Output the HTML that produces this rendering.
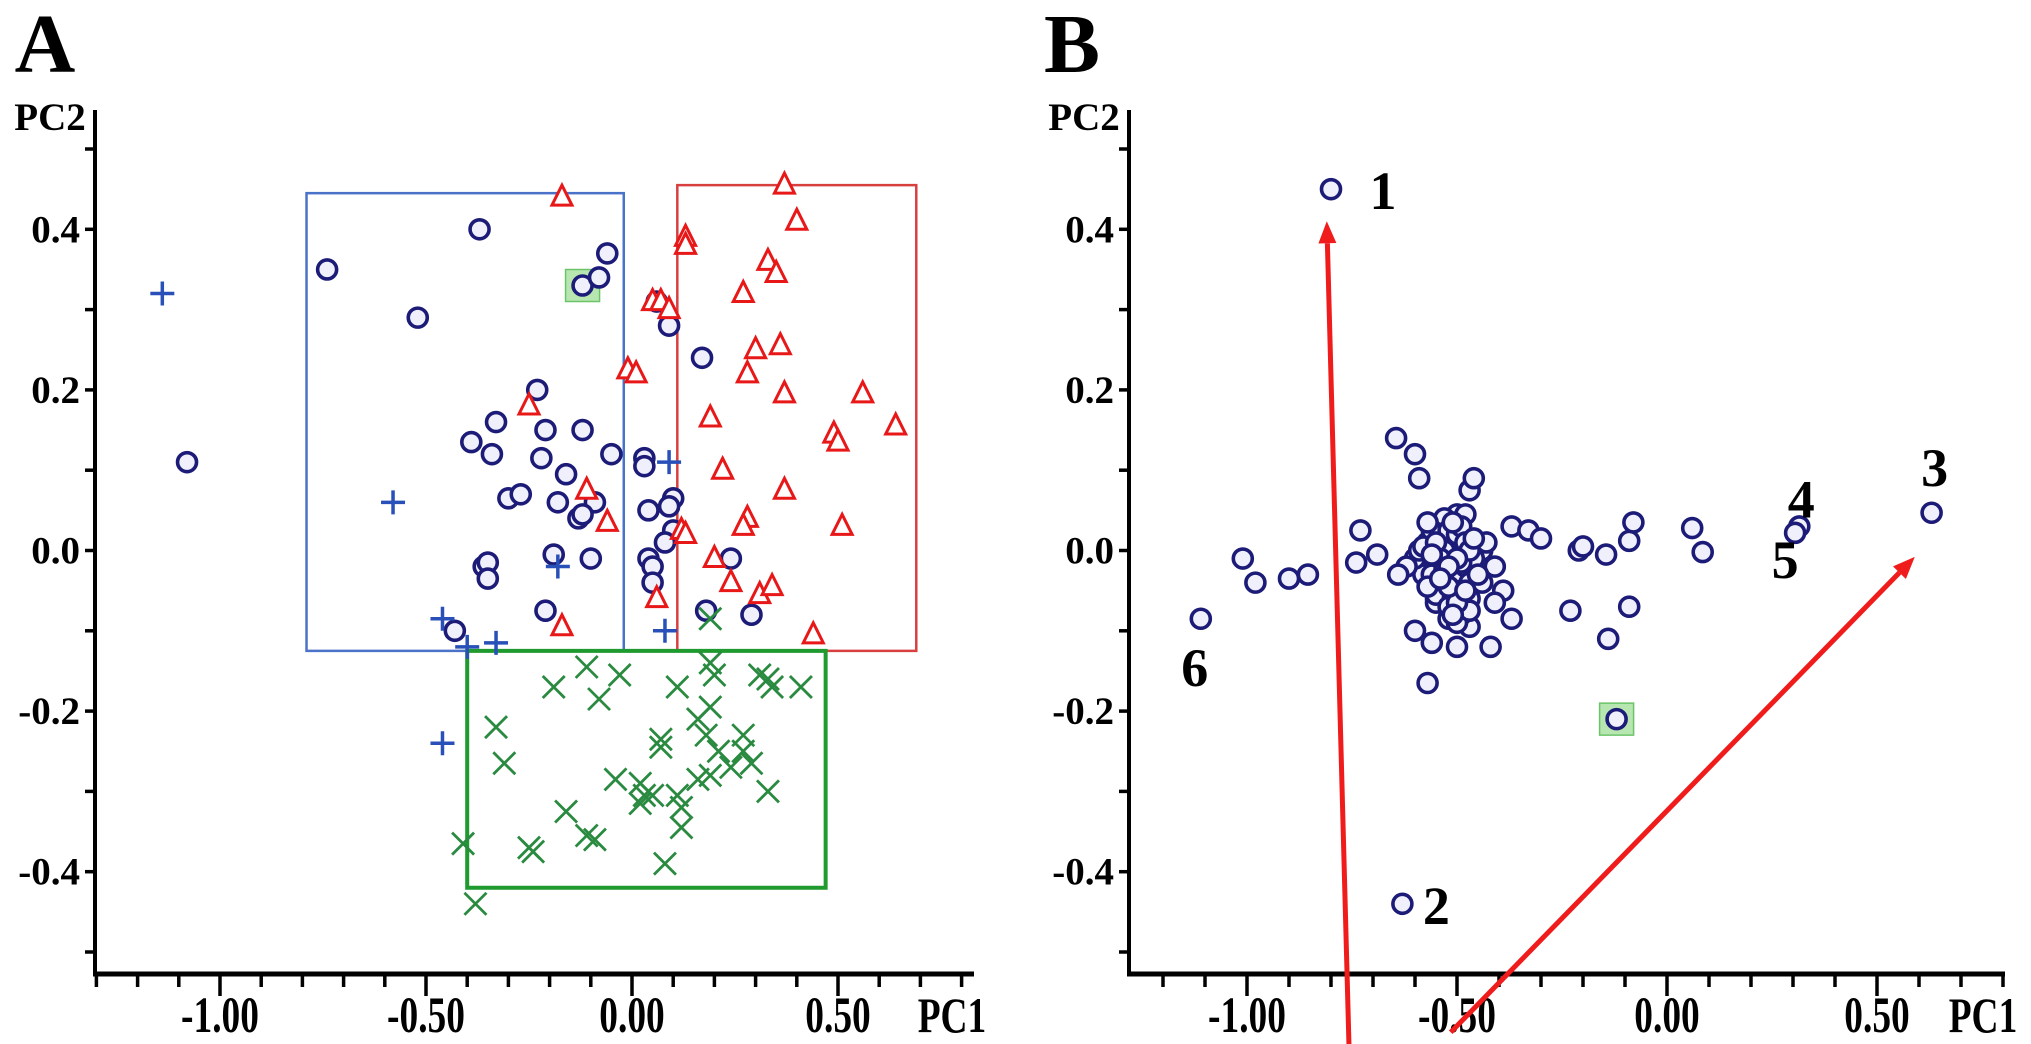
<!DOCTYPE html>
<html><head><meta charset="utf-8"><style>
html,body{margin:0;padding:0;background:#fff;}
svg{display:block;font-family:"Liberation Serif",serif;font-weight:bold;}
</style></head><body>
<svg id="fig" width="2031" height="1044" viewBox="0 0 2031 1044" xmlns="http://www.w3.org/2000/svg">
<text x="45" y="72" font-size="84" text-anchor="middle">A</text>
<text x="1072" y="72" font-size="84" text-anchor="middle">B</text>
</svg>
<script>
// ---- Panel A data ----
const aCircX=[-0.74,-0.37,-0.52,-1.08,-0.12,-0.06,-0.08,0.06,0.09,0.17,-0.23,-0.33,-0.39,-0.34,-0.21,-0.12,-0.22,-0.16,-0.05,0.03,0.03,-0.30,-0.27,-0.18,-0.09,-0.13,-0.12,0.04,0.10,0.09,0.10,0.08,0.04,0.05,0.05,-0.10,-0.19,-0.36,-0.35,-0.35,-0.21,-0.43,0.18,0.24,0.29];
const aCircY=[0.35,0.40,0.29,0.11,0.33,0.37,0.34,0.31,0.28,0.24,0.20,0.16,0.135,0.12,0.15,0.15,0.115,0.095,0.12,0.115,0.105,0.065,0.07,0.06,0.06,0.04,0.045,0.05,0.065,0.055,0.025,0.01,-0.01,-0.02,-0.04,-0.01,-0.005,-0.02,-0.015,-0.035,-0.075,-0.10,-0.075,-0.01,-0.08];
const aTriX=[-0.17,0.37,0.40,0.13,0.13,0.05,0.07,0.09,0.33,0.35,0.27,-0.01,0.01,0.30,0.36,0.28,0.37,0.19,0.56,0.64,0.49,0.50,0.22,-0.25,-0.11,0.37,-0.06,0.12,0.13,0.28,0.27,0.51,0.20,0.24,0.31,0.34,0.06,-0.17,0.44];
const aTriY=[0.44,0.455,0.41,0.39,0.38,0.31,0.31,0.30,0.36,0.345,0.32,0.225,0.22,0.25,0.255,0.22,0.195,0.165,0.195,0.155,0.145,0.135,0.10,0.18,0.075,0.075,0.035,0.025,0.02,0.04,0.03,0.03,-0.01,-0.04,-0.055,-0.045,-0.06,-0.095,-0.105];
const aPlusX=[-1.14,-0.58,-0.46,-0.40,-0.33,-0.18,0.09,0.08,-0.46];
const aPlusY=[0.32,0.06,-0.085,-0.12,-0.115,-0.02,0.11,-0.10,-0.24];
const aCrossX=[0.19,-0.41,-0.38,-0.33,-0.31,-0.19,-0.11,-0.08,-0.03,0.11,0.19,0.20,0.31,0.33,0.34,0.41,0.19,0.16,0.18,0.07,0.07,0.21,0.27,0.27,0.24,0.29,0.33,0.19,0.16,-0.04,0.02,0.03,0.02,0.05,0.11,0.12,0.12,-0.16,-0.11,-0.09,-0.25,-0.24,0.08];
const aCrossY=[-0.085,-0.365,-0.44,-0.22,-0.265,-0.17,-0.145,-0.185,-0.155,-0.17,-0.14,-0.155,-0.155,-0.16,-0.17,-0.17,-0.195,-0.21,-0.23,-0.245,-0.235,-0.25,-0.23,-0.25,-0.27,-0.265,-0.30,-0.28,-0.285,-0.285,-0.29,-0.305,-0.315,-0.305,-0.305,-0.32,-0.345,-0.325,-0.355,-0.36,-0.37,-0.375,-0.39];
const aBlueBox=[-0.79,-0.02,-0.125,0.445];
const aRedBox=[0.11,0.69,-0.125,0.455];
const aGreenBox=[-0.40,0.47,-0.42,-0.125];
const aHighlight=[-0.12,0.33];
// ---- Panel B data ----
const bLabeledX=[-0.80,-0.63,0.63,0.315,0.305,-1.11];
const bLabeledY=[0.45,-0.44,0.047,0.03,0.022,-0.085];
const bLabels=["1","2","3","4","5","6"];
const bCircX=[-1.01,-0.98,-0.90,-0.855,-0.73,-0.74,-0.69,-0.645,-0.60,-0.59,-0.57,-0.60,-0.56,-0.50,-0.47,-0.42,-0.37,-0.39,-0.41,-0.47,-0.46,-0.37,-0.33,-0.30,-0.21,-0.20,-0.145,-0.09,-0.08,0.06,0.085,-0.23,-0.09,-0.14,-0.12,
 -0.52,-0.50,-0.54,-0.48,-0.53,-0.51,-0.55,-0.49,-0.57,-0.46,-0.52,-0.50,-0.58,-0.44,-0.53,-0.48,-0.56,-0.47,-0.51,-0.54,-0.49,-0.60,-0.43,-0.52,-0.50,-0.55,-0.47,-0.62,-0.45,-0.53,-0.49,-0.57,-0.51,-0.64,-0.41,-0.55,-0.48,-0.52,-0.46,-0.59,-0.50,
 -0.51,-0.53,-0.49,-0.52,-0.50,-0.54,-0.48,-0.51,-0.53,-0.49,-0.56,-0.46,-0.52,-0.50,-0.55,-0.47,-0.51,-0.53,-0.49,-0.52,-0.58,-0.44,-0.54,-0.48,-0.50,-0.52,-0.57,-0.45,-0.51,-0.53,-0.49,-0.55,-0.47,-0.50,-0.52,-0.54,-0.48,-0.56,-0.46,-0.51];
const bCircY=[-0.01,-0.04,-0.035,-0.03,0.025,-0.015,-0.005,0.14,0.12,0.09,-0.165,-0.10,-0.115,-0.12,-0.095,-0.12,-0.085,-0.05,-0.065,0.075,0.09,0.03,0.025,0.015,0.0,0.005,-0.005,0.012,0.035,0.028,-0.002,-0.075,-0.07,-0.11,-0.21,
 0.0,-0.02,0.02,0.01,-0.03,0.03,-0.01,-0.04,0.01,-0.02,-0.05,0.045,-0.03,0.0,0.04,0.045,0.025,-0.06,-0.07,-0.05,-0.08,-0.01,0.01,-0.085,-0.09,-0.06,-0.075,-0.02,-0.04,-0.045,0.02,0.035,0.015,-0.03,-0.02,-0.065,-0.03,-0.015,-0.035,0.0,0.005,
 -0.01,-0.015,-0.005,-0.025,-0.035,0.005,-0.02,0.015,-0.045,-0.05,-0.03,-0.01,0.025,0.02,-0.055,-0.04,-0.06,0.0,0.03,-0.07,0.005,-0.04,-0.01,0.01,-0.065,-0.045,-0.045,-0.03,0.035,-0.025,-0.015,0.01,0.0,-0.01,-0.02,-0.035,-0.05,-0.005,0.015,-0.08];
const bArrowStartX=[-0.757,-0.515];
const bArrowStartY=[-0.62,-0.60];
const bArrowEndX=[-0.81,0.59];
const bArrowEndY=[0.41,-0.008];
const bHighlight=[-0.12,-0.21];
const yTickLabels=["0.4","0.2","0.0","-0.2","-0.4"];
const yTickVals=[0.4,0.2,0.0,-0.2,-0.4];
const xTickLabels=["-1.00","-0.50","0.00","0.50"];
const xTickVals=[-1.0,-0.5,0.0,0.5];

const NS="http://www.w3.org/2000/svg";
const svg=document.getElementById('fig');
function mk(tag,attrs,parent){const e=document.createElementNS(NS,tag);for(const k in attrs)e.setAttribute(k,attrs[k]);(parent||svg).appendChild(e);return e;}

function panel(cfg){
  const g=mk('g',{});
  
  
  const sx=v=>cfg.x0+v*cfg.kx, sy=v=>550.5-v*803;
  const ax=mk('g',{},g);
  
  
  mk('line',{x1:cfg.ax0,y1:110,x2:cfg.ax0,y2:976,stroke:'#000','stroke-width':4},ax);
  mk('line',{x1:cfg.ax0-2,y1:974,x2:cfg.ax1,y2:974,stroke:'#000','stroke-width':5},ax);
  for(let i=-5;i<=5;i++){const y=sy(i/10);mk('line',{x1:cfg.ax0-10,y1:y,x2:cfg.ax0,y2:y,stroke:'#000','stroke-width':3.5},ax);}
  for(let i=cfg.tmin;i<=cfg.tmax;i++){const x=sx(i/10);const maj=(i%5===0);mk('line',{x1:x,y1:974,x2:x,y2:974+(maj?22:13),stroke:'#000','stroke-width':3.5},ax);}
  yTickVals.forEach((v,i)=>{const t=mk('text',{x:cfg.ax0-15,y:sy(v)+13,'font-size':39,'text-anchor':'end'},ax);t.textContent=yTickLabels[i];
    
    });
  xTickVals.forEach((v,i)=>{const t=mk('text',{x:sx(v),y:1032,'font-size':44,'text-anchor':'middle',transform:`translate(${sx(v)},1032) scale(0.85,1.15) translate(${-sx(v)},-1032)`},ax);t.textContent=xTickLabels[i];
    
    });
  const t1=mk('text',{x:cfg.ax0-45,y:130,'font-size':39,'text-anchor':'middle'},ax);t1.textContent='PC2';
  
  
  const t2=mk('text',{x:cfg.ax1-22,y:1032,'font-size':44,'text-anchor':'middle',transform:`translate(${cfg.ax1-22},1032) scale(0.85,1.12) translate(${-(cfg.ax1-22)},-1032)`},ax);t2.textContent='PC1';
  
  
  return {g,sx,sy};
}
function circle(p,x,y,parent,name){const c=mk('circle',{cx:p.sx(x),cy:p.sy(y),r:9.5,fill:'#f0f0fc',stroke:'#1c1c78','stroke-width':3.6},parent);
  
  }
function highlight(p,x,y,parent){const r=mk('rect',{x:p.sx(x)-17,y:p.sy(y)-16,width:34,height:32,fill:'#b8e6b0',stroke:'#6cc46a','stroke-width':1.5},parent);
  
  }

const A=panel({name:'panel-a',x0:632,kx:412,ax0:95,ax1:974,tmin:-13,tmax:8});
function box(b,col,w,name){const r=mk('rect',{x:A.sx(b[0]),y:A.sy(b[3]),width:A.sx(b[1])-A.sx(b[0]),height:A.sy(b[2])-A.sy(b[3]),fill:'none',stroke:col,'stroke-width':w},A.g);
  
  }
box(aBlueBox,'#4a72c8',2.5,'blue-group-box');
box(aRedBox,'#d84040',2.5,'red-group-box');
box(aGreenBox,'#1e9a2e',4,'green-group-box');
highlight(A,aHighlight[0],aHighlight[1],A.g);
aCircX.forEach((x,i)=>circle(A,x,aCircY[i],A.g,'group-circle-point'));
aTriX.forEach((x,i)=>{const cx=A.sx(x),cy=A.sy(aTriY[i]);const p=mk('polygon',{points:`${cx},${cy-12} ${cx-10},${cy+8} ${cx+10},${cy+8}`,fill:'#fff',stroke:'#e81818','stroke-width':3},A.g);
  
  });
aPlusX.forEach((x,i)=>{const cx=A.sx(x),cy=A.sy(aPlusY[i]);const p=mk('path',{d:`M${cx-12},${cy}H${cx+12}M${cx},${cy-12}V${cy+12}`,stroke:'#2850b8','stroke-width':3.5,fill:'none'},A.g);
  
  });
aCrossX.forEach((x,i)=>{const cx=A.sx(x),cy=A.sy(aCrossY[i]);const p=mk('path',{d:`M${cx-11},${cy-11}L${cx+11},${cy+11}M${cx+11},${cy-11}L${cx-11},${cy+11}`,stroke:'#2a8a40','stroke-width':2.8,fill:'none'},A.g);
  
  });

const B=panel({name:'panel-b',x0:1667,kx:420,ax0:1129,ax1:2005,tmin:-12,tmax:8});
highlight(B,bHighlight[0],bHighlight[1],B.g);
bCircX.forEach((x,i)=>circle(B,x,bCircY[i],B.g,'sample-point'));
bLabeledX.forEach((x,i)=>circle(B,x,bLabeledY[i],B.g,'labeled-sample-point'));
const lblOff=[[52,2],[34,2],[3,-45],[2,-27],[-10,27],[-6,49]];
bLabels.forEach((s,i)=>{const t=mk('text',{x:B.sx(bLabeledX[i])+lblOff[i][0],y:B.sy(bLabeledY[i])+lblOff[i][1]+18,'font-size':54,'text-anchor':'middle'},B.g);t.textContent=s;
  
  });
bArrowStartX.forEach((x,i)=>{
  const x1=B.sx(x),y1=B.sy(bArrowStartY[i]),x2=B.sx(bArrowEndX[i]),y2=B.sy(bArrowEndY[i]);
  const ang=Math.atan2(y2-y1,x2-x1),L=22,W=9;
  const bx=x2-L*Math.cos(ang),by=y2-L*Math.sin(ang);
  const l=mk('line',{x1:x1,y1:y1,x2:bx,y2:by,stroke:'#f01c1c','stroke-width':5},B.g);
  
  
  const h=mk('polygon',{points:`${x2},${y2} ${bx-W*Math.sin(ang)},${by+W*Math.cos(ang)} ${bx+W*Math.sin(ang)},${by-W*Math.cos(ang)}`,fill:'#f01c1c'},B.g);
  
  
});
</script>
</body></html>
